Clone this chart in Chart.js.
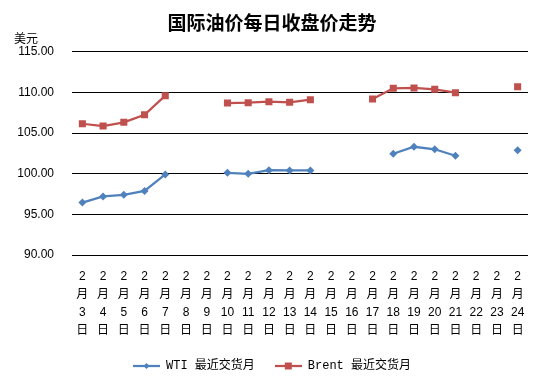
<!DOCTYPE html>
<html>
<head>
<meta charset="utf-8">
<script src="https://cdn.jsdelivr.net/npm/chart.js@4/dist/chart.umd.min.js"></script>
<style>
html,body{margin:0;padding:0;background:#fff;}
#wrap{width:544px;height:384px;position:relative;}
</style>
</head>
<body>
<div id="wrap"><canvas id="c" width="544" height="384"></canvas></div>
<script>
const titleText = '国际油价每日收盘价走势';
const unitText = '美元';
const days = ['3','4','5','6','7','8','9','10','11','12','13','14','15','16','17','18','19','20','21','22','23','24'];
const categories = days.map(d => ['2','月',d,'日']);
const wtiLabel = 'WTI 最近交货月';
const brentLabel = 'Brent 最近交货月';
const wti = [96.45, 97.20, 97.40, 97.88, 99.90, null, null, 100.10, 99.98, 100.43, 100.40, 100.40, null, null, null, 102.45, 103.31, 103.00, 102.21, null, null, 102.87];
const brent = [106.14, 105.86, 106.32, 107.25, 109.59, null, null, 108.69, 108.73, 108.85, 108.78, 109.10, null, null, 109.18, 110.50, 110.54, 110.38, 109.96, null, null, 110.70];
const yMin = 90, yMax = 115, yStep = 5;

const WTI_COLOR = '#4F81BD';
const BRENT_COLOR = '#C0504D';

function legendIcon(color, style) {
  const cv = document.createElement('canvas');
  cv.width = 27; cv.height = 10;
  const g = cv.getContext('2d');
  g.strokeStyle = color; g.lineWidth = 2.25;
  g.beginPath(); g.moveTo(0, 5); g.lineTo(27, 5); g.stroke();
  g.fillStyle = color;
  if (style === 'rectRot') {
    g.beginPath(); g.moveTo(13.5, 2); g.lineTo(16.5, 5); g.lineTo(13.5, 8); g.lineTo(10.5, 5); g.closePath(); g.fill();
  } else {
    g.fillRect(10, 1.5, 7, 7);
  }
  return cv;
}

const unitPlugin = {
  id: 'unitText',
  afterDraw(chart) {
    const ctx = chart.ctx;
    ctx.save();
    ctx.font = '12px "Noto Sans CJK SC", sans-serif';
    ctx.fillStyle = '#000';
    ctx.textBaseline = 'middle';
    ctx.textAlign = 'left';
    ctx.fillText(unitText, 14, 38);
    ctx.restore();
  }
};

new Chart(document.getElementById('c'), {
  type: 'line',
  data: {
    labels: categories,
    datasets: [
      {
        label: wtiLabel,
        data: wti,
        borderColor: WTI_COLOR,
        backgroundColor: WTI_COLOR,
        borderWidth: 2.25,
        pointStyle: 'rectRot',
        pointRadius: 4,
        pointBorderWidth: 0,
        spanGaps: false,
        tension: 0
      },
      {
        label: brentLabel,
        data: brent,
        borderColor: BRENT_COLOR,
        backgroundColor: BRENT_COLOR,
        borderWidth: 2.25,
        pointStyle: 'rect',
        pointRadius: 5,
        pointBorderWidth: 0,
        spanGaps: false,
        tension: 0
      }
    ]
  },
  options: {
    responsive: false,
    animation: false,
    devicePixelRatio: 1,
    layout: { padding: { left: 16, right: 16, top: 0, bottom: 2 } },
    plugins: {
      title: {
        display: true,
        text: titleText,
        color: '#000',
        font: { family: '"Noto Sans CJK SC", sans-serif', size: 19, weight: 'bold', lineHeight: 1.2 },
        padding: { top: 11.6, bottom: 17.3 }
      },
      legend: {
        display: true,
        position: 'bottom',
        labels: {
          color: '#000',
          font: { family: '"Liberation Mono", "Noto Sans CJK SC", monospace', size: 12 },
          usePointStyle: true,
          pointStyleWidth: 27,
          padding: 20,
          generateLabels(chart) {
            return chart.data.datasets.map((ds, i) => ({
              text: ds.label,
              fillStyle: ds.borderColor,
              strokeStyle: ds.borderColor,
              lineWidth: 0,
              pointStyle: legendIcon(ds.borderColor, ds.pointStyle),
              datasetIndex: i,
              hidden: false
            }));
          }
        }
      },
      tooltip: { enabled: false }
    },
    scales: {
      x: {
        offset: true,
        grid: { display: false, drawTicks: false },
        border: { display: false },
        ticks: {
          color: '#000',
          font: { family: '"Liberation Sans", "Noto Sans CJK SC", sans-serif', size: 12, lineHeight: 1.5 },
          padding: 13,
          maxRotation: 0,
          autoSkip: false
        },
        afterFit(scale) { scale.height = 85; }
      },
      y: {
        min: yMin,
        max: yMax,
        grid: { color: '#000', lineWidth: 1, drawTicks: false },
        border: { display: false },
        ticks: {
          stepSize: yStep,
          color: '#000',
          font: { family: '"Liberation Sans", sans-serif', size: 12 },
          padding: 18,
          callback: v => Number(v).toFixed(2)
        },
        afterFit(scale) { scale.width = 56; }
      }
    }
  },
  plugins: [unitPlugin]
});
</script>
</body>
</html>
